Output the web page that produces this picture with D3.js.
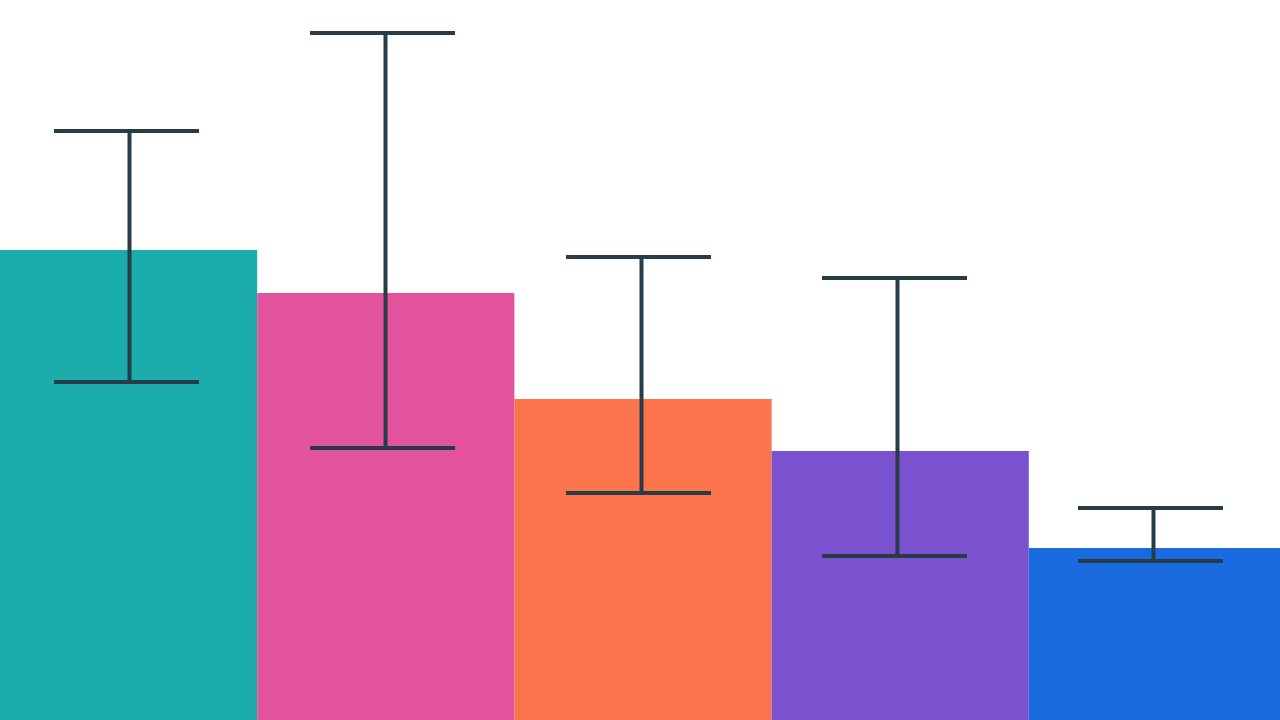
<!DOCTYPE html>
<html>
<head>
<meta charset="utf-8">
<script src="https://cdn.jsdelivr.net/npm/d3@7"></script>
<style>
  html, body { margin: 0; padding: 0; background: #fff; overflow: hidden; }
</style>
</head>
<body>
<div id="chart"></div>
<script>
const width = 1280;
const height = 720;

// data
const categories = ["A", "B", "C", "D", "E"];
const means = [47.0, 42.7, 32.1, 26.9, 17.2];
const errHigh = [58.9, 68.7, 46.3, 44.2, 21.2];
const errLow = [33.8, 27.2, 22.7, 16.4, 15.9];
const colors = ["#1aadab", "#e3529c", "#fb744c", "#7a52cf", "#1a6ae0"];

const rows = categories.map((c, i) => ({
    cat: c, mean: means[i], hi: errHigh[i], lo: errLow[i], color: colors[i]
}));

const svg = d3.select("#chart").append("svg")
    .attr("width", width)
    .attr("height", height);

// bars run a little past the right edge, like the original
const xBar = d3.scaleBand()
    .domain(categories)
    .range([0, width + 6])
    .padding(0);

const x = d3.scaleBand()
    .domain(categories)
    .range([0, width])
    .padding(0);

const y = d3.scaleLinear()
    .domain([0, 72])
    .range([height, 0]);

svg.append("g")
    .selectAll("rect")
    .data(rows)
    .enter().append("rect")
    .attr("x", d => xBar(d.cat))
    .attr("y", d => y(d.mean))
    .attr("width", xBar.bandwidth())
    .attr("height", d => y(0) - y(d.mean))
    .style("fill", d => d.color);

// error bars
const errColor = "#263d48";
const capLeft = 74, capRight = 71, stemShift = 1.5;
const err = svg.append("g")
    .selectAll("g")
    .data(rows)
    .enter().append("g")
    .attr("transform", d => `translate(${x(d.cat) + x.bandwidth() / 2},0)`);

err.append("line")
    .attr("x1", stemShift).attr("x2", stemShift)
    .attr("y1", d => y(d.hi))
    .attr("y2", d => y(d.lo))
    .style("stroke", errColor)
    .style("stroke-width", 4);

err.append("line")
    .attr("x1", -capLeft).attr("x2", capRight)
    .attr("y1", d => y(d.hi))
    .attr("y2", d => y(d.hi))
    .style("stroke", errColor)
    .style("stroke-width", 4);

err.append("line")
    .attr("x1", -capLeft).attr("x2", capRight)
    .attr("y1", d => y(d.lo))
    .attr("y2", d => y(d.lo))
    .style("stroke", errColor)
    .style("stroke-width", 4);
</script>
</body>
</html>
